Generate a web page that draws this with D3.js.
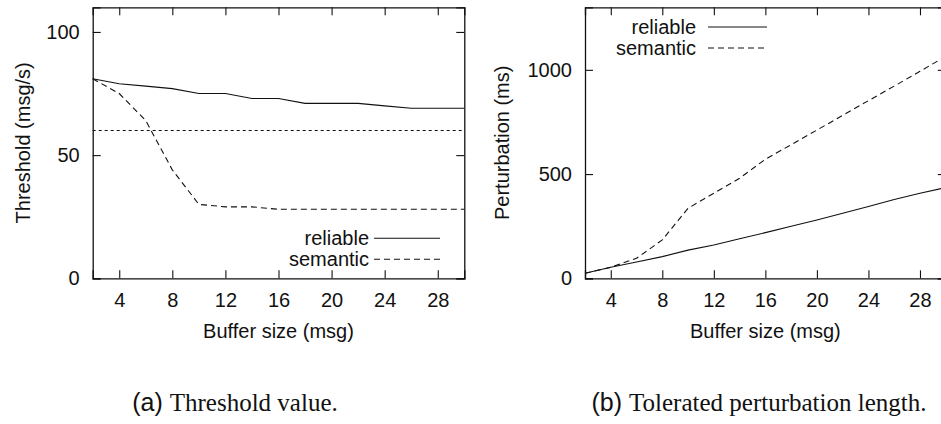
<!DOCTYPE html>
<html>
<head>
<meta charset="utf-8">
<script src="https://cdn.jsdelivr.net/npm/d3@7"></script>
<style>
  html, body { margin: 0; padding: 0; background: #fff; }
  svg { display: block; }
  .sans { font-family: "Liberation Sans", Arial, sans-serif; }
  .serif { font-family: "Liberation Serif", "Times New Roman", serif; }
</style>
</head>
<body>
<svg id="chart" width="941" height="424"></svg>
<script>
// ---- data ----
const bufferSizes = [2, 4, 6, 8, 10, 12, 14, 16, 18, 20, 22, 24, 26, 28, 30];
const thresholdReliable = [81, 79, 78, 77, 75, 75, 73, 73, 71, 71, 71, 70, 69, 69, 69];
const thresholdSemantic = [81, 75, 64, 44, 30, 29, 29, 28, 28, 28, 28, 28, 28, 28, 28];
const thresholdReference = 60;
const perturbReliable = [24, 53, 78, 104, 135, 160, 190, 219, 250, 280, 312, 344, 378, 408, 435];
const perturbSemantic = [24, 53, 96, 184, 336, 408, 480, 571, 641, 711, 782, 852, 922, 993, 1065];
const xTicks = [4, 8, 12, 16, 20, 24, 28];
const thresholdTicks = [0, 50, 100];
const perturbTicks = [0, 500, 1000];
const seriesNames = ["reliable", "semantic"];
const xLabel = "Buffer size (msg)";
const yLabels = ["Threshold (msg/s)", "Perturbation (ms)"];
const captionTags = ["(a)", "(b)"];
const captionTexts = ["Threshold value.", "Tolerated perturbation length."];

const svg = d3.select("#chart");
const FS = 20;
const dashStyles = { reliable: null, semantic: "6,4" };

function panel(opts) {
  const x = d3.scaleLinear().domain([2, 30]).range([opts.x0, opts.x1]);
  const y = d3.scaleLinear().domain([0, opts.yMax]).range([278.3, 7.3]);
  const g = svg.append("g");

  // data lines
  const line = d3.line().x((d, i) => x(bufferSizes[i])).y(d => y(d));
  opts.series.forEach((s, k) => {
    g.append("path").datum(s)
      .attr("d", line)
      .attr("fill", "none")
      .attr("stroke", "#111")
      .attr("stroke-width", 1.1)
      .attr("stroke-dasharray", dashStyles[seriesNames[k]]);
  });
  if (opts.refLine !== undefined) {
    g.append("line")
      .attr("x1", x(2)).attr("x2", x(30))
      .attr("y1", y(opts.refLine)).attr("y2", y(opts.refLine))
      .attr("stroke", "#111").attr("stroke-width", 1.1)
      .attr("stroke-dasharray", "3,3");
  }

  // axes (gnuplot style: inward ticks, mirrored)
  const tl = 8;
  const fmt = d3.format("d");
  const axB = d3.axisBottom(x).tickValues(xTicks).tickSize(-tl).tickPadding(15).tickFormat(fmt);
  const axT = d3.axisTop(x).tickValues(xTicks).tickSize(-tl).tickFormat("");
  const axL = d3.axisLeft(y).tickValues(opts.yTicks).tickSize(-tl).tickPadding(13).tickFormat(fmt);
  const axR = d3.axisRight(y).tickValues(opts.yTicks).tickSize(-tl).tickFormat("");
  const gb = g.append("g").attr("transform", `translate(0,${y(0)})`).call(axB);
  const gt = g.append("g").attr("transform", `translate(0,${y(opts.yMax)})`).call(axT);
  const gl = g.append("g").attr("transform", `translate(${x(2)},0)`).call(axL);
  const gr = g.append("g").attr("transform", `translate(${x(30)},0)`).call(axR);
  [gb, gt, gl, gr].forEach(a => {
    a.select(".domain").attr("stroke", "#111").attr("stroke-width", 1.3);
    a.selectAll(".tick line").attr("stroke", "#111").attr("stroke-width", 1.1);
    a.selectAll("text").attr("class", "sans").attr("font-size", FS).attr("fill", "#111");
  });
  gb.selectAll(".tick text").attr("dy", "0.71em");

  // axis titles
  g.append("text").attr("class", "sans")
    .attr("x", (opts.x0 + opts.x1) / 2).attr("y", 338)
    .attr("text-anchor", "middle").attr("font-size", FS).attr("fill", "#111")
    .text(xLabel);
  g.append("text").attr("class", "sans")
    .attr("transform", `translate(${opts.yTitleX},${(y(0) + y(opts.yMax)) / 2}) rotate(-90)`)
    .attr("text-anchor", "middle").attr("dy", "0.35em")
    .attr("font-size", FS).attr("fill", "#111")
    .text(opts.yLabel);

  // legend
  seriesNames.forEach((name, k) => {
    const ly = opts.legY + k * 21;
    g.append("text").attr("class", "sans")
      .attr("x", opts.legTextX).attr("y", ly).attr("dy", "0.35em")
      .attr("text-anchor", "end").attr("font-size", FS).attr("fill", "#111")
      .text(name);
    g.append("line")
      .attr("x1", opts.legLine[0]).attr("x2", opts.legLine[1])
      .attr("y1", ly).attr("y2", ly)
      .attr("stroke", "#111").attr("stroke-width", 1.1)
      .attr("stroke-dasharray", dashStyles[name]);
  });

  // caption
  const cap = g.append("text").attr("x", opts.capX).attr("y", 411)
    .attr("text-anchor", "middle").attr("font-size", 25).attr("fill", "#111");
  cap.append("tspan").attr("class", "sans").text(opts.tag + " ");
  cap.append("tspan").attr("class", "serif").text(opts.caption);
}

panel({
  x0: 92.7, x1: 464.3, yMax: 110, yTicks: thresholdTicks,
  series: [thresholdReliable, thresholdSemantic], refLine: thresholdReference,
  yLabel: yLabels[0], yTitleX: 23, legTextX: 369, legLine: [374, 440], legY: 238.3,
  tag: captionTags[0], caption: captionTexts[0], capX: 235
});
panel({
  x0: 585, x1: 945.75, yMax: 1300, yTicks: perturbTicks,
  series: [perturbReliable, perturbSemantic],
  yLabel: yLabels[1], yTitleX: 502, legTextX: 696, legLine: [708, 767], legY: 27,
  tag: captionTags[1], caption: captionTexts[1], capX: 759
});
</script>
</body>
</html>
